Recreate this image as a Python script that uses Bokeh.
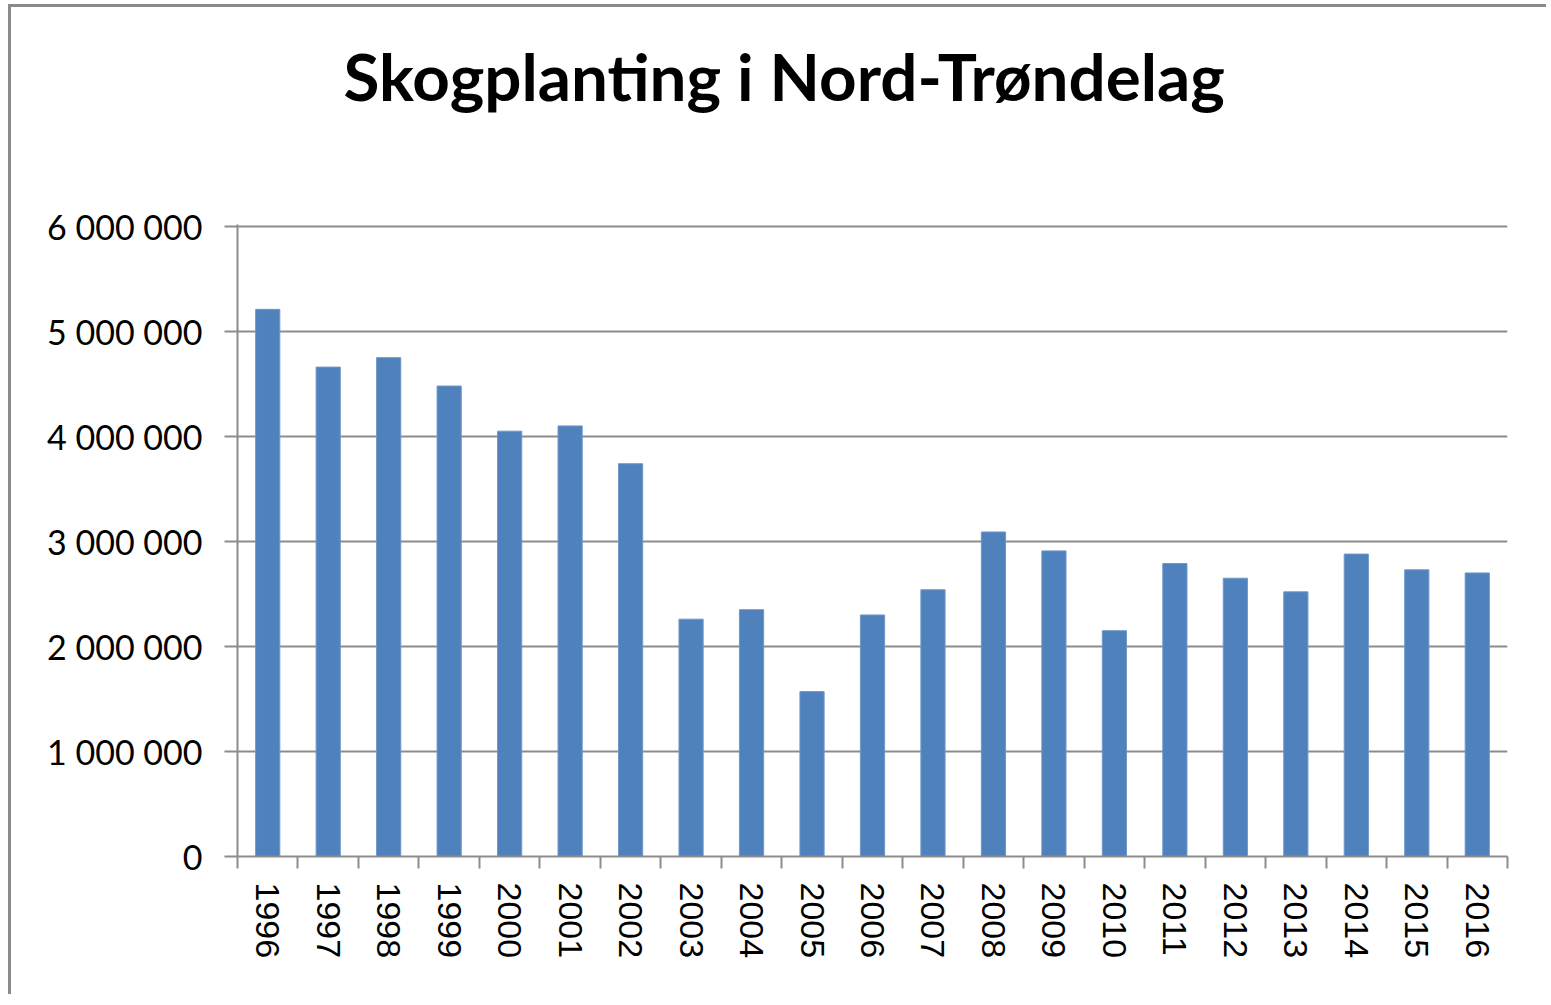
import math
from bokeh.plotting import figure
from bokeh.models import FixedTicker, Range1d
from bokeh.embed import file_html
from bokeh.resources import INLINE

years = ["1996", "1997", "1998", "1999", "2000", "2001", "2002", "2003", "2004", "2005", "2006",
         "2007", "2008", "2009", "2010", "2011", "2012", "2013", "2014", "2015", "2016"]
planted = [5210000, 4660000, 4750000, 4480000, 4050000, 4100000, 3740000, 2260000, 2350000, 1570000,
           2300000, 2540000, 3090000, 2910000, 2150000, 2790000, 2650000, 2520000, 2880000, 2730000, 2700000]
y_ticks = [0, 1000000, 2000000, 3000000, 4000000, 5000000, 6000000]
title_text = "Skogplanting i Nord-Trøndelag"

xs = list(range(len(years)))
GRAY = "#8c8c8c"

p = figure(width=1538, height=990, output_backend="svg", toolbar_location=None,
           x_range=Range1d(-0.5, len(years) - 0.5), y_range=Range1d(0, y_ticks[-1] * 1.003),
           min_border_left=226, min_border_right=42, min_border_top=217, min_border_bottom=141,
           outline_line_color=None)
p.styles = {"border-left": "3px solid #8a8a8a", "border-top": "3px solid #8a8a8a",
            "margin-left": "8px", "margin-top": "4px"}

p.vbar(x=xs, top=planted, width=0.4, fill_color="#4F81BD", line_color="#6f97c9", line_width=1)

p.title.text = title_text
p.title.align = "left"
p.title.offset = 106
p.title.vertical_align = "top"
p.title.standoff = 20
p.title.padding = {"left": 0, "right": 0, "top": 0, "bottom": 98}
p.title.text_font = "Lato"
p.title.text_font_style = "bold"
p.title.text_font_size = "65.5px"
p.title.text_color = "black"

xa = p.xaxis[0]
xa.ticker = FixedTicker(ticks=xs, minor_ticks=[i - 0.5 for i in range(len(years) + 1)])
xa.major_label_overrides = {i: y for i, y in enumerate(years)}
xa.major_label_orientation = -math.pi / 2
xa.major_tick_out = 0
xa.major_tick_in = 0
xa.minor_tick_out = 12
xa.minor_tick_in = 0
xa.minor_tick_line_color = GRAY
xa.minor_tick_line_width = 2
xa.axis_line_color = GRAY
xa.axis_line_width = 2
xa.major_label_text_font = "Liberation Sans"
xa.major_label_text_font_size = "34px"
xa.major_label_text_color = "black"
xa.major_label_standoff = 14

ya = p.yaxis[0]
ya.ticker = FixedTicker(ticks=y_ticks, minor_ticks=[])
ya.major_label_overrides = {v: f"{v:,}".replace(",", " ") for v in y_ticks}
ya.major_tick_out = 13
ya.major_tick_in = 0
ya.major_tick_line_color = GRAY
ya.major_tick_line_width = 2
ya.axis_line_color = GRAY
ya.axis_line_width = 2
ya.major_label_text_font = "Lato"
ya.major_label_text_font_size = "34px"
ya.major_label_text_color = "black"
ya.major_label_standoff = 22

p.xgrid.grid_line_color = None
p.ygrid.grid_line_color = GRAY
p.ygrid.grid_line_width = 2

open("out.html", "w").write(file_html(p, INLINE))
